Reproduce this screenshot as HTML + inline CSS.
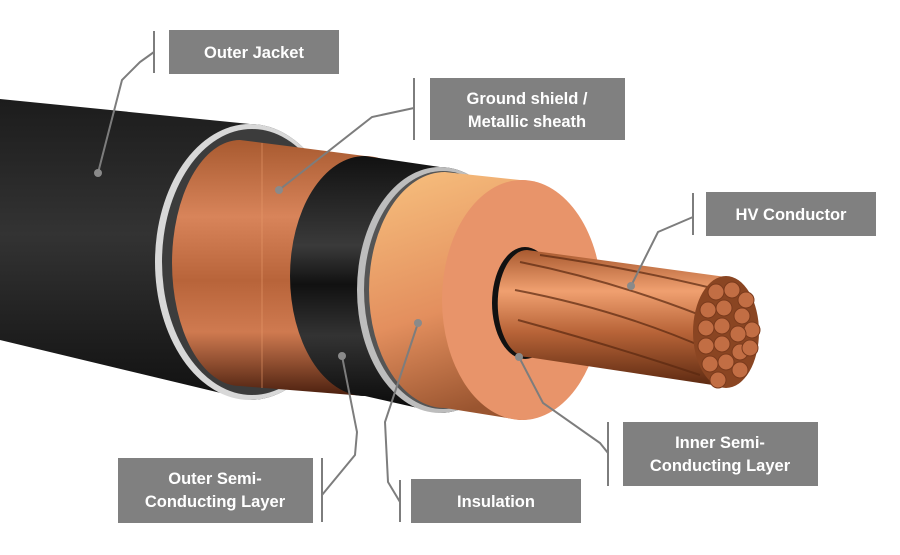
<!DOCTYPE html>
<html><head><meta charset="utf-8"><style>
html,body{margin:0;padding:0;background:#fff;}
svg{display:block}
text{font-family:"Liberation Sans",sans-serif;font-weight:bold;font-size:16.5px;fill:#fff}
</style></head><body>
<svg width="900" height="555" viewBox="0 0 900 555" xmlns="http://www.w3.org/2000/svg">
<defs>
<linearGradient id="jk" x1="0" y1="0" x2="0" y2="1">
<stop offset="0" stop-color="#1c1c1c"/><stop offset="0.45" stop-color="#333"/><stop offset="1" stop-color="#111"/></linearGradient>
<linearGradient id="cu" x1="0" y1="0" x2="0" y2="1">
<stop offset="0" stop-color="#a85a30"/><stop offset="0.3" stop-color="#d8845a"/><stop offset="0.55" stop-color="#b8643a"/><stop offset="0.75" stop-color="#cf7a50"/><stop offset="1" stop-color="#4a1f0e"/></linearGradient>
<linearGradient id="bk" x1="0" y1="0" x2="0" y2="1">
<stop offset="0" stop-color="#111"/><stop offset="0.35" stop-color="#3a3a3a"/><stop offset="0.5" stop-color="#111"/><stop offset="0.7" stop-color="#333"/><stop offset="1" stop-color="#080808"/></linearGradient>
<linearGradient id="ins" x1="0" y1="0" x2="0.3" y2="1">
<stop offset="0" stop-color="#f7c07e"/><stop offset="0.6" stop-color="#e38f5e"/><stop offset="1" stop-color="#9a5530"/></linearGradient>
<linearGradient id="cond" x1="0" y1="0" x2="0" y2="1">
<stop offset="0" stop-color="#a95a30"/><stop offset="0.3" stop-color="#f0a070"/><stop offset="0.6" stop-color="#b86438"/><stop offset="1" stop-color="#5a2810"/></linearGradient>
</defs>
<!-- jacket -->
<path d="M0,99 L250,124 A95,138 0 0 1 250,400 L0,340 Z" fill="url(#jk)"/>
<ellipse cx="250" cy="262" rx="95" ry="138" fill="#d8d8d8"/>
<ellipse cx="252" cy="262" rx="90" ry="133" fill="#3c3c3c"/>
<!-- copper shield -->
<path d="M240,140 L365,156 A75,120 0 0 1 365,396 L240,386 A68,123 0 0 1 240,140 Z" fill="url(#cu)"/>
<line x1="262" y1="143" x2="262" y2="388" stroke="#e89a6a" stroke-width="1" opacity="0.6"/>
<!-- black semicon -->
<path d="M365,156 L440,167 A83,123 0 0 1 440,413 L365,396 A75,120 0 0 1 365,156 Z" fill="url(#bk)"/>
<ellipse cx="440" cy="290" rx="83" ry="123" fill="#bdbdbd"/>
<ellipse cx="443" cy="290" rx="79" ry="119" fill="#555"/>
<!-- insulation -->
<path d="M445,172 L520,180 A80,120 0 0 1 520,420 L445,408 A76,118 0 0 1 445,172 Z" fill="url(#ins)"/>
<ellipse cx="522" cy="300" rx="80" ry="120" fill="#e8946a"/>
<!-- conductor -->
<ellipse cx="525" cy="303" rx="33" ry="56" fill="#111"/>
<path d="M527,250 L726,277 A32,55 0 0 1 726,387 L527,357 A29,53 0 0 1 527,250 Z" fill="url(#cond)"/>
<g stroke="#5a2810" stroke-width="2" fill="none" opacity="0.7">
<path d="M520,262 Q610,280 700,315"/><path d="M515,290 Q620,310 710,350"/><path d="M540,255 Q630,268 720,290"/><path d="M518,320 Q610,345 700,375"/>
</g>
<ellipse cx="726" cy="332" rx="33" ry="56" fill="#8a4522"/>
<g fill="#c26e44" stroke="#7a3a1c" stroke-width="1">
<circle cx="716" cy="292" r="8"/><circle cx="732" cy="290" r="8"/><circle cx="746" cy="300" r="8"/><circle cx="708" cy="310" r="8"/><circle cx="724" cy="308" r="8"/><circle cx="742" cy="316" r="8"/><circle cx="752" cy="330" r="8"/><circle cx="706" cy="328" r="8"/><circle cx="722" cy="326" r="8"/><circle cx="738" cy="334" r="8"/><circle cx="706" cy="346" r="8"/><circle cx="722" cy="344" r="8"/><circle cx="740" cy="352" r="8"/><circle cx="750" cy="348" r="8"/><circle cx="710" cy="364" r="8"/><circle cx="726" cy="362" r="8"/><circle cx="740" cy="370" r="8"/><circle cx="718" cy="380" r="8"/>
</g>
<!-- leader lines -->
<g stroke="#7d7d7d" stroke-width="2" fill="none">
<line x1="154" y1="31" x2="154" y2="73"/><polyline points="154,52 140,62 122,80 98,173"/>
<line x1="414" y1="78" x2="414" y2="140"/><polyline points="414,108 372,117 279,190"/>
<line x1="693" y1="193" x2="693" y2="235"/><polyline points="693,217 658,232 631,286"/>
<line x1="608" y1="422" x2="608" y2="486"/><polyline points="608,453 600,443 543,403 519,357"/>
<line x1="400" y1="480" x2="400" y2="522"/><polyline points="400,502 388,482 385,422 418,323"/>
<line x1="322" y1="458" x2="322" y2="522"/><polyline points="322,495 355,455 357,432 342,356"/>
</g>
<g fill="#8a8a8a">
<circle cx="98" cy="173" r="4"/><circle cx="279" cy="190" r="4"/><circle cx="631" cy="286" r="4"/><circle cx="519" cy="357" r="4"/><circle cx="418" cy="323" r="4"/><circle cx="342" cy="356" r="4"/>
</g>
<!-- labels -->
<g fill="#808080">
<rect x="169" y="30" width="170" height="44"/>
<rect x="430" y="78" width="195" height="62"/>
<rect x="706" y="192" width="170" height="44"/>
<rect x="623" y="422" width="195" height="64"/>
<rect x="411" y="479" width="170" height="44"/>
<rect x="118" y="458" width="195" height="65"/>
</g>
<g text-anchor="middle">
<text x="254" y="58">Outer Jacket</text>
<text x="527" y="104">Ground shield /</text>
<text x="527" y="127">Metallic sheath</text>
<text x="791" y="220">HV Conductor</text>
<text x="720" y="448">Inner Semi-</text>
<text x="720" y="471">Conducting Layer</text>
<text x="496" y="507">Insulation</text>
<text x="215" y="484">Outer Semi-</text>
<text x="215" y="507">Conducting Layer</text>
</g>
</svg>
</body></html>
